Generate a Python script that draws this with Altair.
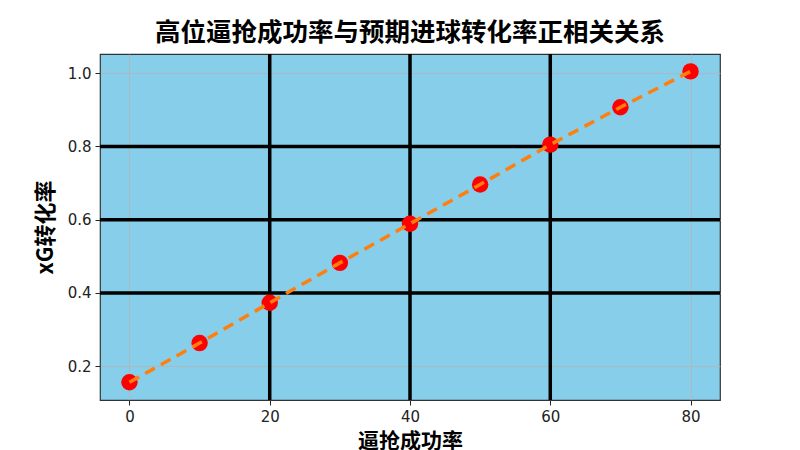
import altair as alt
import pandas as pd

# data
press_rate = [0, 10, 20, 30, 40, 50, 60, 70, 80]
xg_rate = [0.156, 0.263, 0.373, 0.482, 0.589, 0.696, 0.805, 0.907, 1.005]
x_ticks = [0, 20, 40, 60, 80]
y_ticks = [0.2, 0.4, 0.6, 0.8, 1.0]
v_lines = [20, 40, 60]
h_lines = [0.4, 0.6, 0.8]

title = "高位逼抢成功率与预期进球转化率正相关关系"
x_title = "逼抢成功率"
y_title = "xG转化率"

df = pd.DataFrame({"x": press_rate, "y": xg_rate})
vdf = pd.DataFrame({"v": v_lines})
hdf = pd.DataFrame({"h": h_lines})

CJK = "Noto Sans CJK SC"
LAT = "DejaVu Sans"

xscale = alt.Scale(domain=[-4.2, 84.2], nice=False, zero=False)
yscale = alt.Scale(domain=[0.1075, 1.0525], nice=False, zero=False)

xaxis = alt.Axis(values=x_ticks, title=x_title, titleFont=CJK, titleFontSize=21,
                 titleFontWeight="bold", titleColor="black", titlePadding=6,
                 labelFont=LAT, labelFontSize=15, labelColor="#222", labelPadding=4,
                 tickColor="#222", tickSize=5, domain=False,
                 grid=True, gridColor="#b4b4b4", gridWidth=0.8)
yaxis = alt.Axis(values=y_ticks, format=".1f", title=y_title, titleFont=CJK, titleFontSize=22,
                 titleFontWeight="bold", titleColor="black", titlePadding=10,
                 labelFont=LAT, labelFontSize=15, labelColor="#222", labelPadding=4,
                 tickColor="#222", tickSize=5, domain=False,
                 grid=True, gridColor="#b4b4b4", gridWidth=0.8)

vrules = alt.Chart(vdf).mark_rule(color="black", strokeWidth=3.5).encode(
    x=alt.X("v:Q", scale=xscale, axis=xaxis))
hrules = alt.Chart(hdf).mark_rule(color="black", strokeWidth=3.5).encode(
    y=alt.Y("h:Q", scale=yscale, axis=yaxis))

points = alt.Chart(df).mark_circle(color="red", opacity=1, size=270).encode(
    x=alt.X("x:Q", scale=xscale, axis=xaxis),
    y=alt.Y("y:Q", scale=yscale, axis=yaxis))
line = alt.Chart(df).mark_line(color="#ff7f0e", strokeWidth=3.5, strokeDash=[11, 7]).encode(
    x=alt.X("x:Q", scale=xscale, axis=xaxis),
    y=alt.Y("y:Q", scale=yscale, axis=yaxis))

chart = alt.layer(vrules, hrules, points, line).properties(
    width=620, height=346,
    background="white",
    title=alt.TitleParams(title, font=CJK, fontSize=25.5, fontWeight="bold",
                          color="black", anchor="middle", offset=6),
    autosize=alt.AutoSizeParams(type="none"),
    padding={"left": 92, "top": 46, "right": 64, "bottom": 50},
).configure_view(fill="#87CEEB", stroke="#333333", strokeWidth=1.2)

chart.save("out.html", embed_options={"renderer": "svg", "actions": False})
